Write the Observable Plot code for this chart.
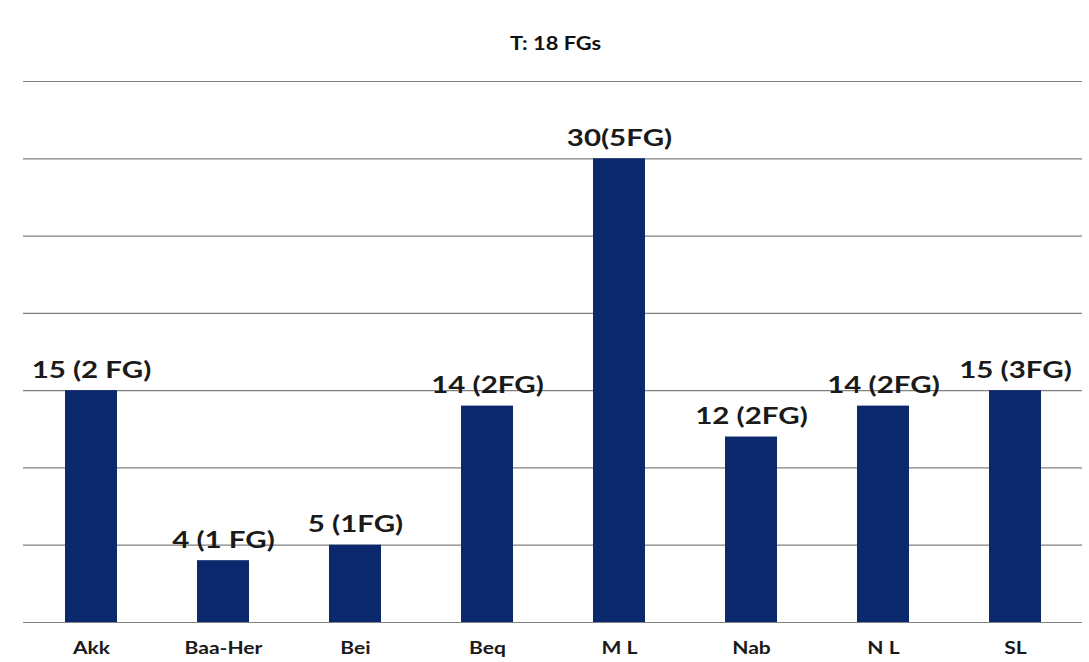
<!DOCTYPE html>
<html>
<head>
<meta charset="utf-8">
<script src="https://cdn.jsdelivr.net/npm/d3@7"></script>
<script src="https://cdn.jsdelivr.net/npm/@observablehq/plot@0.6"></script>
<style>
  body { margin: 0; background: #fff; font-family: Lato, "Open Sans", sans-serif; }
  #title { height: 60px; padding-top: 33px; box-sizing: border-box; text-align: center; padding-left: 22px; }
  #title span { display: inline-block; font-weight: bold; font-size: 19px; line-height: 19px; color: #111; transform: scaleX(1.15); }
</style>
</head>
<body>
<div id="title"><span>T: 18 FGs</span></div>
<div id="chart"></div>
<script>
const categories = ["Akk", "Baa-Her", "Bei", "Beq", "M L", "Nab", "N L", "SL"];
const values = [15, 4, 5, 14, 30, 12, 14, 15];
const labels = ["15 (2 FG)", "4 (1 FG)", "5 (1FG)", "14 (2FG)", "30(5FG)", "12 (2FG)", "14 (2FG)", "15 (3FG)"];
const gridTicks = [0, 5, 10, 15, 20, 25, 30, 35];

const data = categories.map((c, i) => ({cat: c, value: values[i], label: labels[i]}));

const chart = Plot.plot({
  width: 1089,
  height: 602,
  marginTop: 21,
  marginBottom: 40,
  marginLeft: 23,
  marginRight: 7,
  style: {fontFamily: "Lato, 'Open Sans', sans-serif", background: "#fff"},
  x: {domain: categories, paddingInner: 0.607, paddingOuter: 0.3, label: null},
  y: {domain: [0, 35], label: null, axis: null},
  marks: [
    Plot.ruleY(gridTicks, {stroke: "#808080", strokeWidth: 1.2}),
    Plot.barY(data, {x: "cat", y: "value", fill: "#0c286c"}),
    Plot.text(data, {x: "cat", y: "value", text: "label", dy: -20, fontSize: 22, fontWeight: "bold", fill: "#1a1a1a"}),
    Plot.axisX({tickSize: 0, tickPadding: 19, fontSize: 17, fontWeight: "bold", color: "#1a1a1a", label: null})
  ]
});

// widen glyphs horizontally to match the reference's broad bold face
chart.querySelectorAll("text").forEach(t => {
  const k = t.closest("[aria-label='x-axis tick label']") ? 1.24 : 1.34;
  const tr = t.getAttribute("transform");
  if (tr) {
    t.setAttribute("transform", tr + ` scale(${k},1)`);
  } else {
    const x = +(t.getAttribute("x") || 0), y = +(t.getAttribute("y") || 0);
    t.removeAttribute("x"); t.removeAttribute("y");
    t.setAttribute("transform", `translate(${x},${y}) scale(${k},1)`);
  }
});
document.getElementById("chart").appendChild(chart);
</script>
</body>
</html>
